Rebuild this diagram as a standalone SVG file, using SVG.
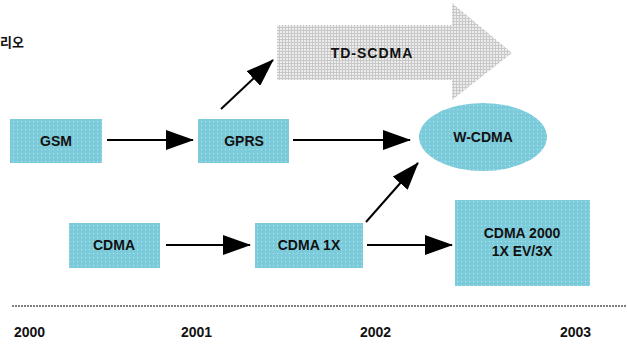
<svg xmlns="http://www.w3.org/2000/svg" width="627" height="344" viewBox="0 0 627 344">
<defs>
<pattern id="pb" width="4" height="4" patternUnits="userSpaceOnUse"><rect width="4" height="4" fill="#7ccbdb"/><rect x="1" y="1" width="1" height="1" fill="#b8e6ee"/></pattern>
<pattern id="pg" width="3" height="3" patternUnits="userSpaceOnUse"><rect width="3" height="3" fill="#c8c8c8"/><rect x="1" y="1" width="2" height="2" fill="#ececec"/></pattern>
<marker id="ah" viewBox="0 0 28 20" refX="27" refY="10" markerWidth="28" markerHeight="20" markerUnits="userSpaceOnUse" orient="auto"><path d="M0,0 L28,10 L0,20 z" fill="#000"/></marker>
</defs>
<style>
.box{fill:url(#pb);}
.t{font-family:"Liberation Sans",Arial,sans-serif;font-size:14px;font-weight:bold;fill:#111;text-anchor:middle;}
.y{font-family:"Liberation Sans",Arial,sans-serif;font-size:14px;font-weight:bold;fill:#111;}
.c{stroke:#000;stroke-width:2;fill:none;}
</style>
<text x="0" y="47" style="font-family:'Noto Sans CJK KR',sans-serif;font-size:13px;font-weight:bold;fill:#111">리오</text>
<g id="tdscdma">
<path d="M277,25 L452,25 L452,3 L512,53 L452,100 L452,80 L277,80 Z" fill="url(#pg)"/>
<text class="t" x="372" y="58" style="letter-spacing:1px">TD-SCDMA</text>
</g>
<g id="gsm"><rect class="box" x="10" y="119" width="92" height="44"/><text class="t" x="56" y="146">GSM</text></g>
<g id="gprs"><rect class="box" x="198" y="119" width="91" height="44"/><text class="t" x="244" y="146">GPRS</text></g>
<g id="wcdma"><ellipse class="box" cx="483" cy="137" rx="64" ry="34"/><text class="t" x="483" y="142">W-CDMA</text></g>
<g id="cdma"><rect class="box" x="69" y="223" width="91" height="45"/><text class="t" x="114" y="250">CDMA</text></g>
<g id="cdma1x"><rect class="box" x="255" y="223" width="108" height="45"/><text class="t" x="309" y="250">CDMA 1X</text></g>
<g id="cdma2000"><rect class="box" x="455" y="200" width="135" height="86"/><text class="t" x="522" y="238">CDMA 2000</text><text class="t" x="522" y="256">1X EV/3X</text></g>
<g id="connectors">
<line class="c" x1="107" y1="140" x2="193" y2="140" marker-end="url(#ah)"/>
<line class="c" x1="293" y1="140" x2="410" y2="140" marker-end="url(#ah)"/>
<line class="c" x1="221" y1="109" x2="273" y2="60" marker-end="url(#ah)"/>
<line class="c" x1="166" y1="245" x2="250" y2="245" marker-end="url(#ah)"/>
<line class="c" x1="367" y1="245" x2="452" y2="245" marker-end="url(#ah)"/>
<line class="c" x1="366" y1="222" x2="418" y2="163" marker-end="url(#ah)"/>
</g>
<g id="axis">
<line x1="12" y1="306" x2="627" y2="306" stroke="#555" stroke-width="1.5" stroke-dasharray="2,1"/>
<text class="y" x="14" y="337">2000</text>
<text class="y" x="181" y="337">2001</text>
<text class="y" x="360" y="337">2002</text>
<text class="y" x="560" y="337">2003</text>
</g>
</svg>
